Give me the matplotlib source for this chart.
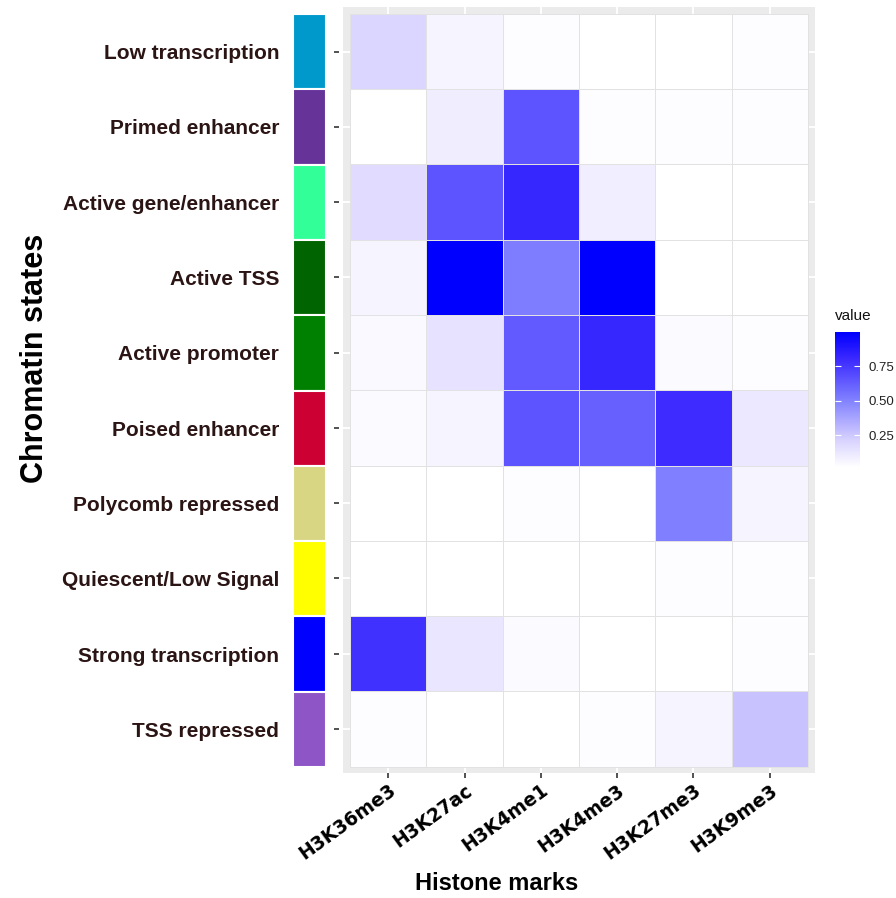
import numpy as np
import matplotlib
matplotlib.use("Agg")
import matplotlib.pyplot as plt
from matplotlib.colors import LinearSegmentedColormap, Normalize

# chromatin states (top to bottom) and their colour codes
states = ["Low transcription", "Primed enhancer", "Active gene/enhancer", "Active TSS",
          "Active promoter", "Poised enhancer", "Polycomb repressed",
          "Quiescent/Low Signal", "Strong transcription", "TSS repressed"]
state_colors = ["#0099CC", "#663399", "#33FF99", "#006400", "#008000",
                "#CC0033", "#D8D683", "#FFFF00", "#0000FF", "#8E55C6"]

# histone marks (left to right)
marks = ["H3K36me3", "H3K27ac", "H3K4me1", "H3K4me3", "H3K27me3", "H3K9me3"]

# emission values, one row per state
low_transcription   = [0.20, 0.07, 0.03, 0.02, 0.02, 0.03]
primed_enhancer     = [0.02, 0.10, 0.66, 0.03, 0.03, 0.03]
active_gene_enh     = [0.18, 0.66, 0.82, 0.09, 0.02, 0.02]
active_tss          = [0.07, 1.00, 0.52, 1.00, 0.02, 0.02]
active_promoter     = [0.05, 0.15, 0.64, 0.82, 0.04, 0.03]
poised_enhancer     = [0.04, 0.07, 0.66, 0.62, 0.80, 0.12]
polycomb_repressed  = [0.02, 0.02, 0.03, 0.02, 0.51, 0.07]
quiescent           = [0.02, 0.02, 0.02, 0.02, 0.03, 0.03]
strong_transcription = [0.78, 0.13, 0.04, 0.02, 0.02, 0.03]
tss_repressed       = [0.03, 0.02, 0.02, 0.03, 0.07, 0.27]

values = np.array([low_transcription, primed_enhancer, active_gene_enh, active_tss,
                   active_promoter, poised_enhancer, polycomb_repressed, quiescent,
                   strong_transcription, tss_repressed])

vmin, vmax = 0.02, 1.0
cmap = LinearSegmentedColormap.from_list(
    "wb", [(0.0, "#FFFFFF"), (0.2, "#D8D2FF"), (0.5, "#8080FF"),
           (0.8, "#3C2AFF"), (1.0, "#0000FF")])
norm = Normalize(vmin, vmax)

W, H = 896, 898
fig = plt.figure(figsize=(W / 100, H / 100), dpi=100)

def px_axes(x0, y0, x1, y1):
    # axes from pixel box (top-left origin)
    return fig.add_axes([x0 / W, 1 - y1 / H, (x1 - x0) / W, (y1 - y0) / H])

label_color = "#2B1414"
nr, nc = values.shape

# ---- heatmap panel
ax = px_axes(343, 7, 815, 773)
ax.set_facecolor("#EBEBEB")
xe = np.arange(nc + 1) + 0.5
ye = np.arange(nr + 1) + 0.5
ax.pcolormesh(xe, ye, values, cmap=cmap, norm=norm, edgecolor="#E2E2E2",
              linewidth=0.6, zorder=2)
ax.set_xlim(0.5 - 0.092, nc + 0.5 + 0.092)
ax.set_ylim(nr + 0.5 + 0.085, 0.5 - 0.092)
ax.set_xticks(np.arange(1, nc + 1))
ax.set_yticks(np.arange(1, nr + 1))
ax.grid(True, color="white", lw=1.3, zorder=0)
ax.set_axisbelow(True)
for s in ax.spines.values():
    s.set_visible(False)
ax.spines["left"].set_position(("outward", 3))
ax.set_yticklabels([])
ax.tick_params(axis="y", length=3.5, width=1.2, color="#333333")
ax.tick_params(axis="x", length=3.5, width=1.2, color="#333333", pad=2)
ax.set_xticklabels(marks, rotation=36, ha="right", va="top", rotation_mode="anchor",
                   fontsize=13.5, fontweight="bold", family="DejaVu Sans", color="black")

# ---- state colour strip
sax = px_axes(293, 14, 326, 767)
sax.barh(np.arange(1, nr + 1), 1, height=1.0, left=0, color=state_colors,
         edgecolor="white", linewidth=1.5)
sax.set_xlim(0, 1)
sax.set_ylim(nr + 0.5, 0.5)
sax.set_xticks([])
sax.set_yticks(np.arange(1, nr + 1))
sax.set_yticklabels(states, fontsize=15, fontweight="bold", family="Liberation Sans",
                    color=label_color)
sax.tick_params(axis="y", length=0, pad=10)
for s in sax.spines.values():
    s.set_visible(False)

# ---- colour bar
cax = px_axes(835, 332, 860, 467)
grad = np.linspace(vmin, vmax, 256).reshape(-1, 1)
cax.imshow(grad, cmap=cmap, norm=norm, aspect="auto", origin="lower",
           extent=[0, 1, vmin, vmax])
cax.set_xlim(0, 1)
cax.set_ylim(vmin, vmax)
cax.set_xticks([])
cax.set_yticks([0.25, 0.50, 0.75])
cax.set_yticklabels(["0.25", "0.50", "0.75"], family="Liberation Sans")
cax.tick_params(axis="y", direction="in", color="white", length=4, width=0.8,
                left=True, right=True, labelleft=False, labelright=True,
                labelsize=9.5, labelcolor="#222222", pad=6)
for s in cax.spines.values():
    s.set_visible(False)
fig.text(835 / W, 1 - 316 / H, "value", fontsize=11, ha="left", va="center",
         family="Liberation Sans", color="#111111")

# ---- axis titles
fig.text(35 / W, 1 - 358 / H, "Chromatin states", rotation=90, ha="center", va="center",
         fontsize=22, fontweight="bold", family="Liberation Sans", color="black")
fig.text(497 / W, 1 - 884 / H, "Histone marks", ha="center", va="center",
         fontsize=17, fontweight="bold", family="Liberation Sans", color="black")

fig.savefig("out.png", dpi=100)
